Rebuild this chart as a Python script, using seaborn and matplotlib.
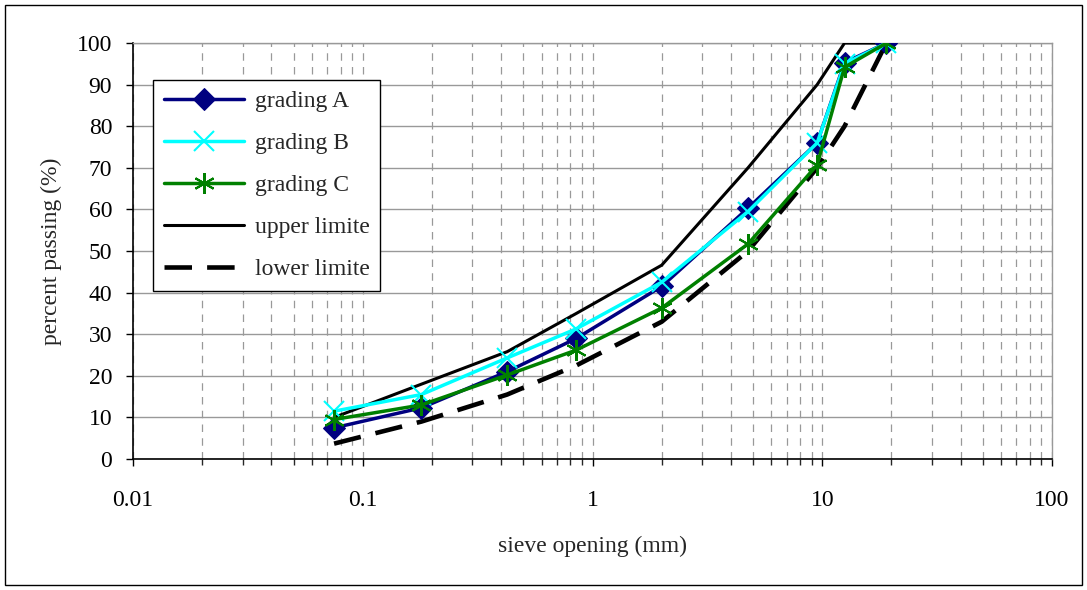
import matplotlib
matplotlib.use("Agg")
import matplotlib.pyplot as plt
import matplotlib.ticker as mticker
from matplotlib.patches import Rectangle
import seaborn as sns
import pandas as pd

# ---- data ----
sieves = [0.075, 0.18, 0.425, 0.85, 2.0, 4.75, 9.5, 12.5, 19.0]
grading_a = [7.5, 12.3, 21.0, 29.0, 41.5, 60.3, 76.0, 95.3, 100.0]
grading_b = [11.5, 15.5, 24.3, 31.3, 42.5, 59.5, 76.0, 95.0, 100.0]
grading_c = [9.5, 13.0, 20.2, 26.2, 36.3, 51.7, 70.7, 94.2, 100.0]
limit_sieves = [0.075, 0.18, 0.425, 0.85, 2.0, 4.75, 9.5, 12.5, 19.0]
upper_limit = [10.0, 18.0, 25.8, 35.0, 46.6, 70.0, 90.0, 100.0, 100.0]
lower_limit = [3.7, 9.0, 15.5, 22.5, 33.0, 50.0, 70.0, 80.0, 100.0]
labels = ["grading A", "grading B", "grading C", "upper limite", "lower limite"]
x_ticks = [0.01, 0.1, 1, 10, 100]
x_tick_labels = ["0.01", "0.1", "1", "10", "100"]
y_ticks = list(range(0, 101, 10))

sns.set_style("white")
plt.rcParams["font.family"] = ["Liberation Serif", "DejaVu Serif"]

fig = plt.figure(figsize=(10.87, 5.90), dpi=100)
ax = fig.add_axes([0.1224, 0.222, 0.8454, 0.705])
ax.set_xscale("log")

df_up = pd.DataFrame({"x": limit_sieves, "y": upper_limit})
df_lo = pd.DataFrame({"x": limit_sieves, "y": lower_limit})
df_a = pd.DataFrame({"x": sieves, "y": grading_a})
df_b = pd.DataFrame({"x": sieves, "y": grading_b})
df_c = pd.DataFrame({"x": sieves, "y": grading_c})

sns.lineplot(data=df_up, x="x", y="y", ax=ax, color="black", lw=2.2,
             sort=False, estimator=None, label=labels[3], zorder=3)
sns.lineplot(data=df_lo, x="x", y="y", ax=ax, color="black", lw=3.3,
             sort=False, estimator=None, label=labels[4], zorder=3,
             linestyle=(0, (6, 3.3)))
sns.lineplot(data=df_a, x="x", y="y", ax=ax, color="#000080", lw=2.5,
             marker="D", markersize=11.5, markeredgecolor="#000080",
             sort=False, estimator=None, label=labels[0], zorder=4)
sns.lineplot(data=df_b, x="x", y="y", ax=ax, color="#00FFFF", lw=2.5,
             marker="x", markersize=14, markeredgewidth=1.5, markeredgecolor="#00FFFF",
             sort=False, estimator=None, label=labels[1], zorder=5)
sns.lineplot(data=df_c, x="x", y="y", ax=ax, color="#008000", lw=2.5,
             marker=(6, 2, 0), markersize=15, markeredgewidth=1.5, markeredgecolor="#008000",
             sort=False, estimator=None, label=labels[2], zorder=6)

ax.set_xlim(0.01, 100)
ax.set_ylim(0, 100)
ax.set_xticks(x_ticks)
ax.xaxis.set_major_formatter(mticker.FixedFormatter(x_tick_labels))
ax.xaxis.set_minor_locator(mticker.LogLocator(base=10, subs=range(2, 10), numticks=20))
ax.xaxis.set_minor_formatter(mticker.NullFormatter())
ax.set_yticks(y_ticks)

ax.grid(True, which="major", axis="y", color="#999999", lw=1.0, linestyle="-")
ax.grid(True, which="both", axis="x", color="#999999", lw=0.9, linestyle=(0, (6, 5)))
ax.set_axisbelow(True)

ax.tick_params(axis="both", which="major", direction="out", length=5, width=1,
               labelsize=17, colors="black", bottom=True, left=True)
ax.tick_params(axis="x", which="minor", direction="out", length=4.5, width=1, bottom=True)
ax.tick_params(axis="x", which="major", pad=17)
ax.tick_params(axis="y", which="major", pad=10)

for side in ["left", "bottom"]:
    ax.spines[side].set_color("black")
    ax.spines[side].set_linewidth(1.2)
for side in ["top", "right"]:
    ax.spines[side].set_color("#999999")
    ax.spines[side].set_linewidth(1.0)

ax.set_xlabel("sieve opening (mm)", fontsize=17, labelpad=18)
ax.set_ylabel("percent passing (%)", fontsize=17, labelpad=11)

handles, labs = ax.get_legend_handles_labels()
order = [labs.index(l) for l in labels]
leg = ax.legend([handles[i] for i in order], [labs[i] for i in order],
                loc="upper left", bbox_to_anchor=(0.022, 0.912), fontsize=17,
                frameon=True, fancybox=False, edgecolor="black", framealpha=1,
                handlelength=3.4, borderpad=0.45, labelspacing=0.87, handletextpad=0.45,
                borderaxespad=0)
leg.get_frame().set_linewidth(1.0)

fig.patches.append(Rectangle((0.005, 0.008), 0.99, 0.984, transform=fig.transFigure,
                             fill=False, edgecolor="black", lw=1.0))

fig.savefig("out.png", dpi=100)
